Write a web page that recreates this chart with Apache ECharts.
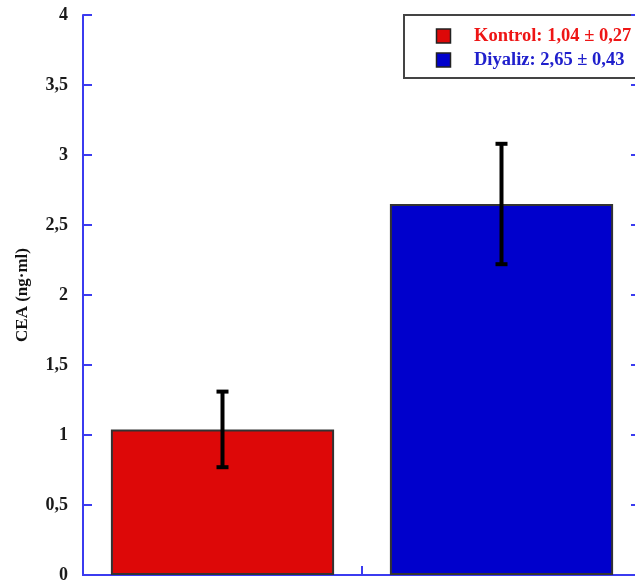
<!DOCTYPE html>
<html>
<head>
<meta charset="utf-8">
<script src="https://cdn.jsdelivr.net/npm/echarts@6/dist/echarts.min.js"></script>
<style>
  html, body { margin: 0; padding: 0; background: #fff; }
  #chart { width: 635px; height: 582px; }
</style>
</head>
<body>
<div id="chart"></div>
<script>
// Group names, means and standard deviations of CEA
const groups = ['Kontrol', 'Diyaliz'];
const means = [1.04, 2.65];
const sds = [0.27, 0.43];
const barColors = ['#dd0808', '#0000cc'];
const textColors = ['#ee1515', '#2020cc'];
const yTicks = [0, 0.5, 1, 1.5, 2, 2.5, 3, 3.5, 4];

const fmt = v => String(v).replace('.', ',');
const fmt2 = v => v.toFixed(2).replace('.', ',');

const axisBlue = '#3b3bf0';
const serif = '"Liberation Serif", "DejaVu Serif", serif';

const chart = echarts.init(document.getElementById('chart'));

// one bar series per group, overlapped into the same slot
const barSeries = groups.map((g, i) => ({
  name: g,
  type: 'bar',
  xAxisIndex: 0,
  yAxisIndex: 0,
  barWidth: '80%',
  barGap: '-100%',
  data: groups.map((_, j) => (j === i ? means[i] : '-')),
  itemStyle: { color: barColors[i], borderColor: '#333', borderWidth: 2 },
  silent: true
}));

// mean ± sd whiskers
const errorSeries = {
  type: 'custom',
  xAxisIndex: 0,
  yAxisIndex: 0,
  z: 10,
  data: groups.map((g, i) => [i, means[i] - sds[i], means[i] + sds[i]]),
  renderItem: function (params, api) {
    const lo = api.coord([api.value(0), api.value(1)]);
    const hi = api.coord([api.value(0), api.value(2)]);
    const x = lo[0];
    const cap = 6;
    const st = { stroke: '#000', lineWidth: 4 };
    return {
      type: 'group',
      children: [
        { type: 'line', shape: { x1: x, y1: lo[1], x2: x, y2: hi[1] }, style: st },
        { type: 'line', shape: { x1: x - cap, y1: hi[1], x2: x + cap, y2: hi[1] }, style: st },
        { type: 'line', shape: { x1: x - cap, y1: lo[1], x2: x + cap, y2: lo[1] }, style: st }
      ]
    };
  }
};

// boxed legend in the top right corner
const legendX = 404, legendY = 15;
const legendChildren = [
  { type: 'rect', shape: { x: legendX, y: legendY, width: 260, height: 63 },
    style: { fill: '#fff', stroke: '#444', lineWidth: 2 } }
];
groups.forEach((g, i) => {
  const cy = legendY + 21 + i * 24;
  legendChildren.push({
    type: 'rect', shape: { x: 436.5, y: cy - 7, width: 14, height: 14 },
    style: { fill: barColors[i], stroke: '#222', lineWidth: 1.5 }
  });
  legendChildren.push({
    type: 'text', x: 474, y: cy,
    style: {
      text: g + ': ' + fmt2(means[i]) + ' \u00b1 ' + fmt2(sds[i]),
      fill: textColors[i], font: 'bold 18.5px ' + serif, verticalAlign: 'middle'
    }
  });
});

chart.setOption({
  animation: false,
  grid: { left: 83, width: 558, top: 15, bottom: 7, containLabel: false, outerBoundsMode: 'none' },
  xAxis: [
    {
      type: 'category', data: groups, position: 'bottom',
      axisLine: { lineStyle: { color: axisBlue, width: 2 } },
      axisTick: { show: true, inside: true, length: 9, alignWithLabel: false, lineStyle: { color: axisBlue, width: 2 } },
      axisLabel: { show: false }
    },
    {
      type: 'category', data: groups, position: 'top',
      axisLine: { lineStyle: { color: axisBlue, width: 2 } },
      axisTick: { show: false }, axisLabel: { show: false }
    }
  ],
  yAxis: [
    {
      type: 'value', min: yTicks[0], max: yTicks[yTicks.length - 1], interval: 0.5,
      position: 'left',
      name: 'CEA (ng\u00b7ml)',
      nameLocation: 'middle', nameRotate: 90, nameGap: 52,
      nameTextStyle: { fontFamily: serif, fontWeight: 'bold', fontSize: 17, color: '#111' },
      axisLine: { show: true, lineStyle: { color: axisBlue, width: 2 } },
      axisTick: { show: true, inside: true, length: 9, lineStyle: { color: axisBlue, width: 2 } },
      axisLabel: { formatter: fmt, margin: 15, fontFamily: serif, fontWeight: 'bold', fontSize: 18, color: '#1a1a1a' },
      splitLine: { show: false }
    },
    {
      type: 'value', min: yTicks[0], max: yTicks[yTicks.length - 1], interval: 0.5,
      position: 'right',
      axisLine: { show: true, lineStyle: { color: axisBlue, width: 2 } },
      axisTick: { show: true, inside: true, length: 10, lineStyle: { color: axisBlue, width: 2 } },
      axisLabel: { show: false },
      splitLine: { show: false }
    }
  ],
  series: barSeries.concat([errorSeries]),
  graphic: [{ type: 'group', z: 100, children: legendChildren }]
});
</script>
</body>
</html>
